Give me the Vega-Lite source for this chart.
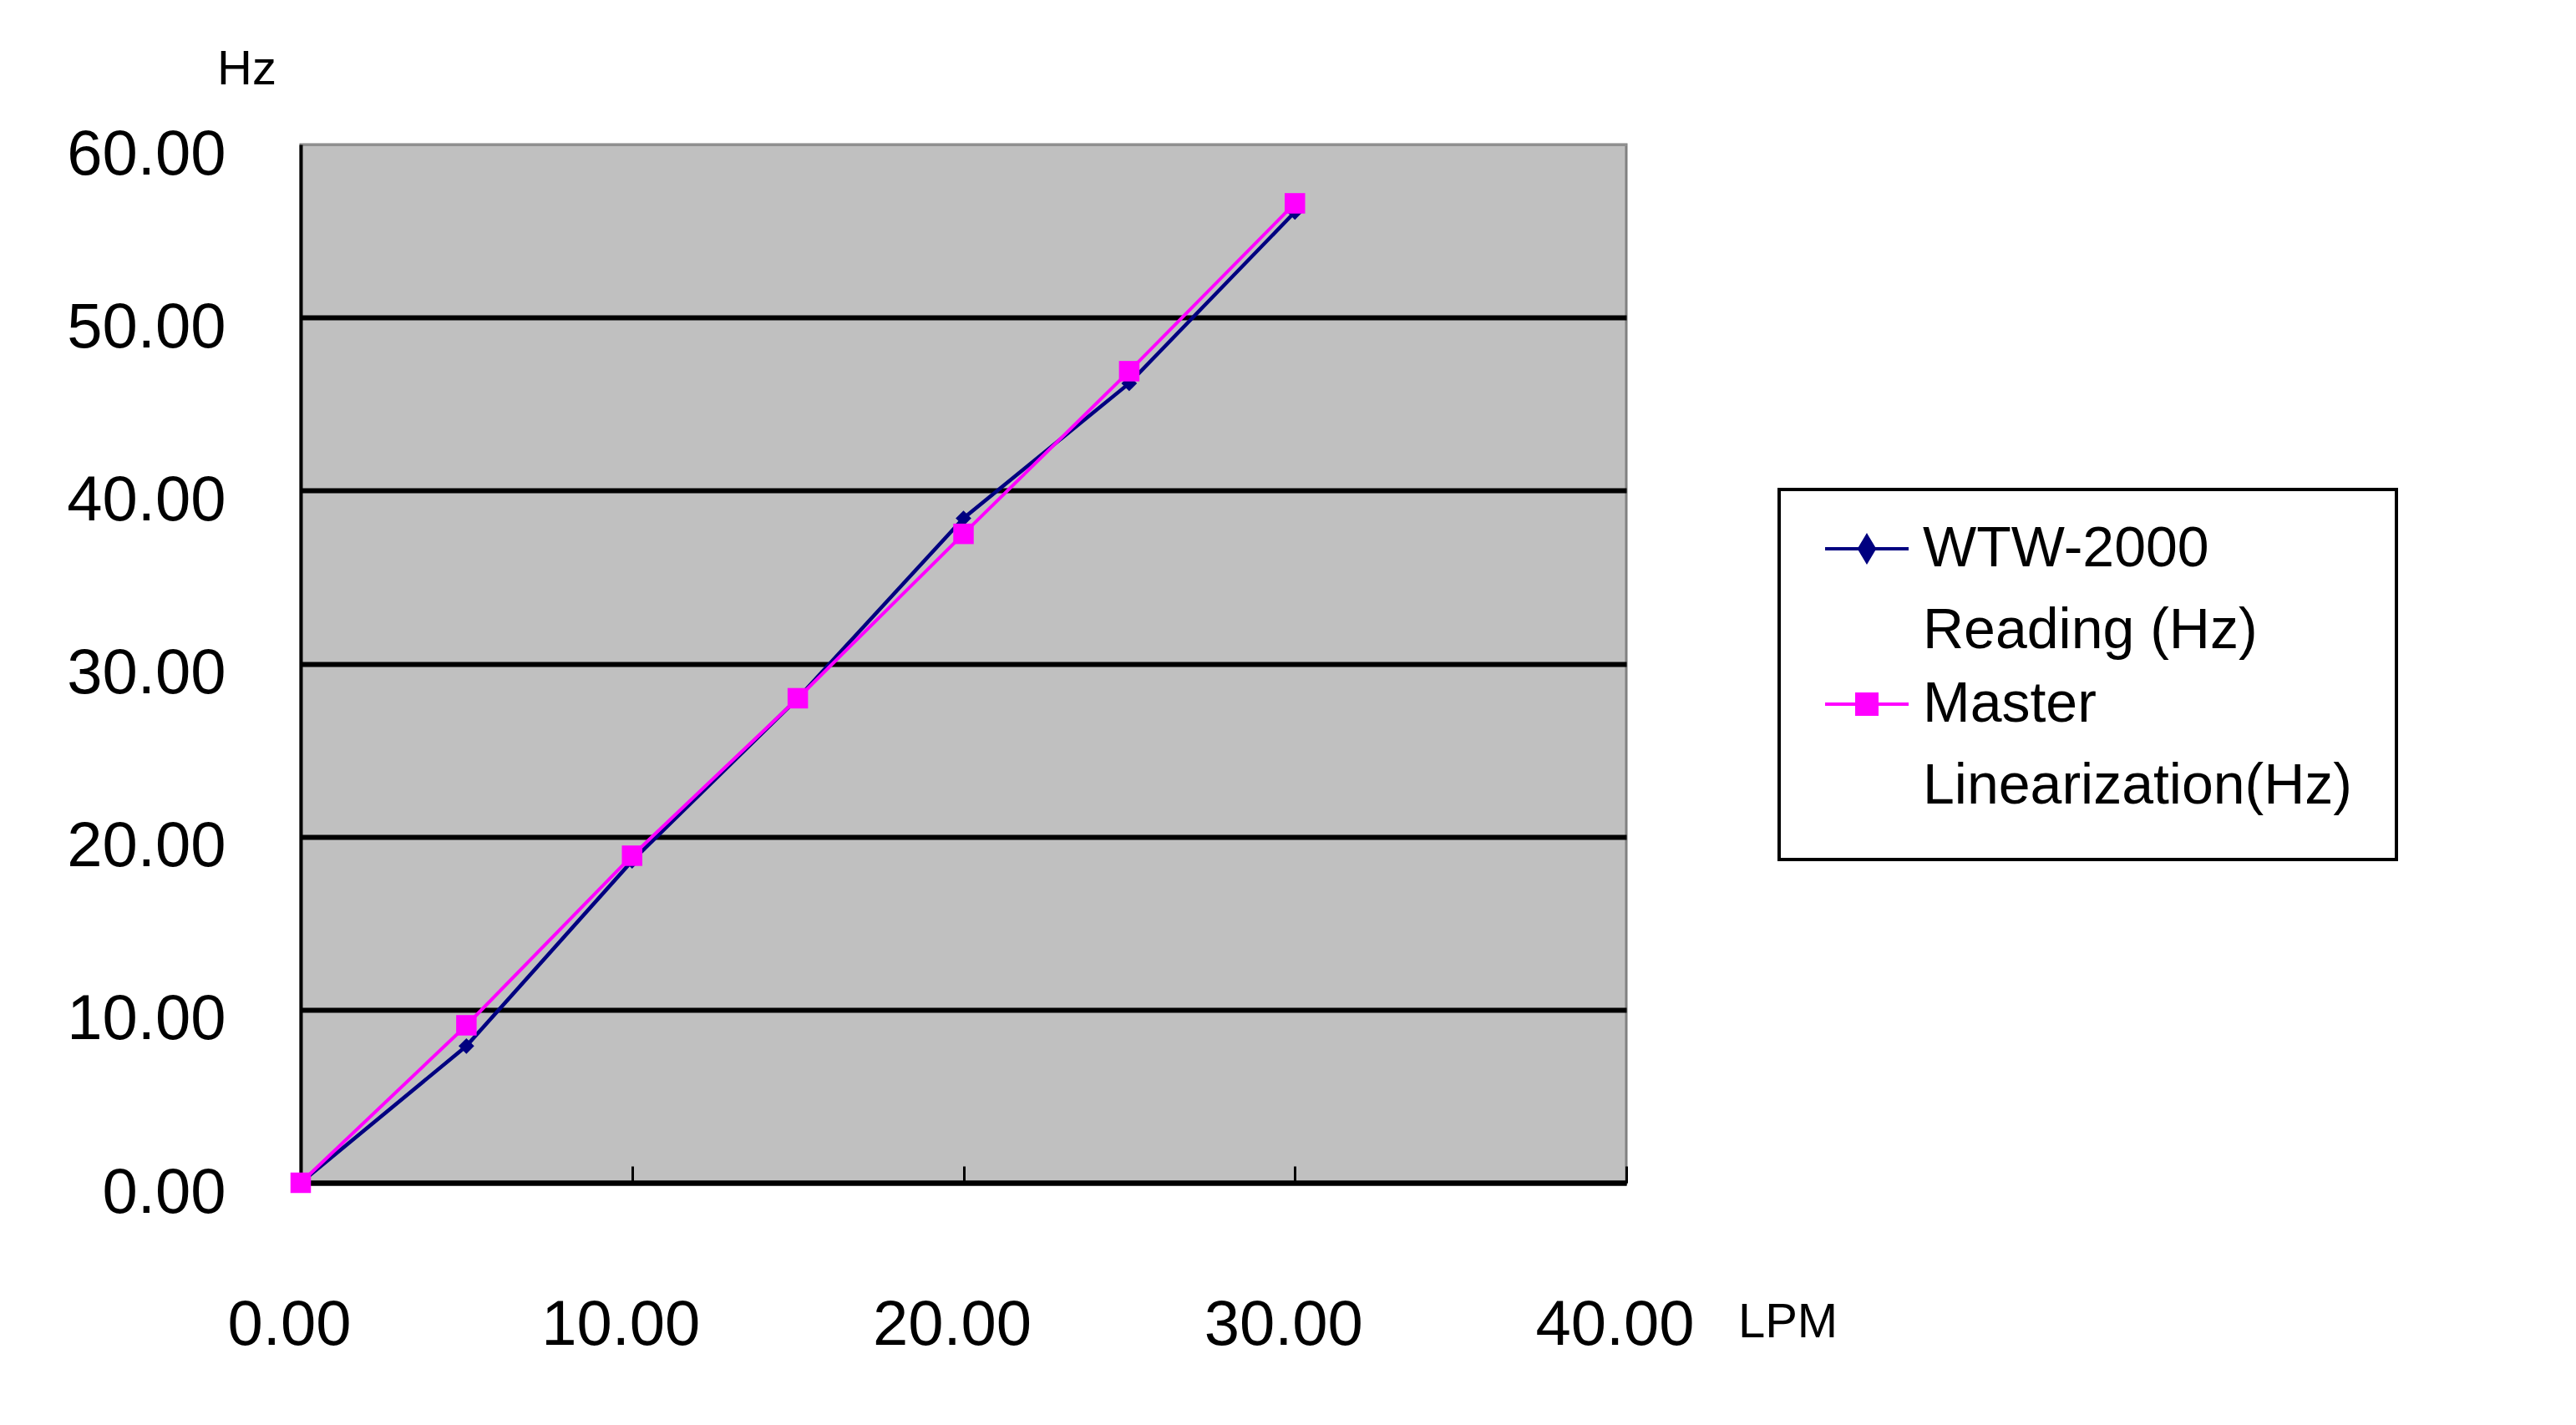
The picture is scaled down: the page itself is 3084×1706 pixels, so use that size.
{
  "$schema": "https://vega.github.io/schema/vega-lite/v6.json",
  "width": 1587,
  "height": 1243,
  "autosize": {"type": "none"},
  "padding": {"left": 360, "top": 173, "right": 1137, "bottom": 290},
  "background": "white",
  "config": {
    "view": {"fill": "#C0C0C0", "stroke": "#808080", "strokeWidth": 3},
    "font": "Liberation Sans, Arial, sans-serif"
  },
  "data": {
    "values": [
      {"lpm": 0, "hz": 0, "series": "WTW-2000|Reading (Hz)"},
      {"lpm": 5, "hz": 7.9, "series": "WTW-2000|Reading (Hz)"},
      {"lpm": 10, "hz": 18.6, "series": "WTW-2000|Reading (Hz)"},
      {"lpm": 15, "hz": 28.0, "series": "WTW-2000|Reading (Hz)"},
      {"lpm": 20, "hz": 38.4, "series": "WTW-2000|Reading (Hz)"},
      {"lpm": 25, "hz": 46.2, "series": "WTW-2000|Reading (Hz)"},
      {"lpm": 30, "hz": 56.1, "series": "WTW-2000|Reading (Hz)"},
      {"lpm": 0, "hz": 0, "series": "Master|Linearization(Hz)"},
      {"lpm": 5, "hz": 9.1, "series": "Master|Linearization(Hz)"},
      {"lpm": 10, "hz": 18.9, "series": "Master|Linearization(Hz)"},
      {"lpm": 15, "hz": 28.0, "series": "Master|Linearization(Hz)"},
      {"lpm": 20, "hz": 37.5, "series": "Master|Linearization(Hz)"},
      {"lpm": 25, "hz": 46.9, "series": "Master|Linearization(Hz)"},
      {"lpm": 30, "hz": 56.6, "series": "Master|Linearization(Hz)"}
    ]
  },
  "encoding": {
    "x": {
      "field": "lpm", "type": "quantitative",
      "scale": {"domain": [0, 40], "nice": false},
      "axis": {
        "values": [0, 10, 20, 30, 40], "format": ".2f", "grid": false,
        "labelFont": "Liberation Sans, Arial, sans-serif", "labelFlush": false, "labelLimit": 1000,
        "labelFontSize": 76, "labelColor": "black", "labelBaseline": "middle", "labelOffset": -14,
        "labelPadding": 190, "ticks": true, "tickSize": -20, "tickColor": "black", "tickWidth": 3,
        "domainColor": "black", "domainWidth": 6,
        "title": "LPM", "titleFont": "Liberation Sans, Arial, sans-serif",
        "titleFontSize": 58, "titleFontWeight": "normal", "titleColor": "black",
        "titleX": 1780, "titleY": 167, "titleAlign": "center", "titleBaseline": "middle"
      }
    },
    "y": {
      "field": "hz", "type": "quantitative",
      "scale": {"domain": [0, 60], "nice": false},
      "axis": {
        "values": [0, 10, 20, 30, 40, 50, 60], "format": ".2f",
        "grid": true, "gridColor": {"condition": {"test": "datum.value == 60", "value": "#909090"}, "value": "black"},
        "gridWidth": {"condition": {"test": "datum.value == 60", "value": 3}, "value": 6}, "gridOpacity": 1,
        "labelFont": "Liberation Sans, Arial, sans-serif", "labelLimit": 1000,
        "labelFontSize": 76, "labelColor": "black", "labelBaseline": "middle", "labelOffset": 12,
        "labelPadding": 90, "ticks": false,
        "domainColor": "black", "domainWidth": 4,
        "title": "Hz", "titleFont": "Liberation Sans, Arial, sans-serif",
        "titleFontSize": 58, "titleFontWeight": "normal", "titleColor": "black", "titleAngle": 0,
        "titleX": -65, "titleY": -90, "titleAlign": "center", "titleBaseline": "middle"
      }
    },
    "color": {
      "field": "series", "type": "nominal",
      "scale": {"domain": ["WTW-2000|Reading (Hz)", "Master|Linearization(Hz)"], "range": ["#000080", "#FF00FF"]},
      "legend": {
        "orient": "none", "legendX": 1770, "legendY": 413, "title": null,
        "padding": 53,
        "labelFont": "Liberation Sans, Arial, sans-serif", "labelFontSize": 68,
        "labelColor": "black", "labelBaseline": "top", "labelOffset": 15, "labelLimit": 2000,
        "labelExpr": "split(datum.label, '|')",
        "symbolSize": 10000, "symbolStrokeWidth": 4, "rowPadding": 20,
        "encode": {
          "legend": {"update": {"stroke": {"value": "black"}, "strokeWidth": {"value": 4}, "fill": {"value": "white"}}},
          "symbols": {"update": {
            "shape": {"signal": "datum.value == 'Master|Linearization(Hz)' ? 'M-1,-0.68H1M-0.24,-0.92H0.24V-0.44H-0.24Z' : 'M-1,-0.68H1M0,-0.98L0.18,-0.68L0,-0.38L-0.18,-0.68Z'"},
            "stroke": {"signal": "datum.value == 'Master|Linearization(Hz)' ? '#FF00FF' : '#000080'"},
            "fill": {"signal": "datum.value == 'Master|Linearization(Hz)' ? '#FF00FF' : '#000080'"}
          }},
          "labels": {"update": {"dy": {"value": -67}, "lineHeight": {"value": 98}}}
        }
      }
    }
  },
  "layer": [
    {
      "transform": [{"filter": "datum.series == 'WTW-2000|Reading (Hz)'"}],
      "mark": {"type": "line", "strokeWidth": 4.5}
    },
    {
      "transform": [{"filter": "datum.series == 'WTW-2000|Reading (Hz)'"}],
      "mark": {"type": "point", "shape": "diamond", "filled": true, "size": 350, "opacity": 1}
    },
    {
      "transform": [{"filter": "datum.series == 'Master|Linearization(Hz)'"}],
      "mark": {"type": "line", "strokeWidth": 4}
    },
    {
      "transform": [{"filter": "datum.series == 'Master|Linearization(Hz)'"}],
      "mark": {"type": "point", "shape": "square", "filled": true, "size": 600, "opacity": 1}
    }
  ]
}
